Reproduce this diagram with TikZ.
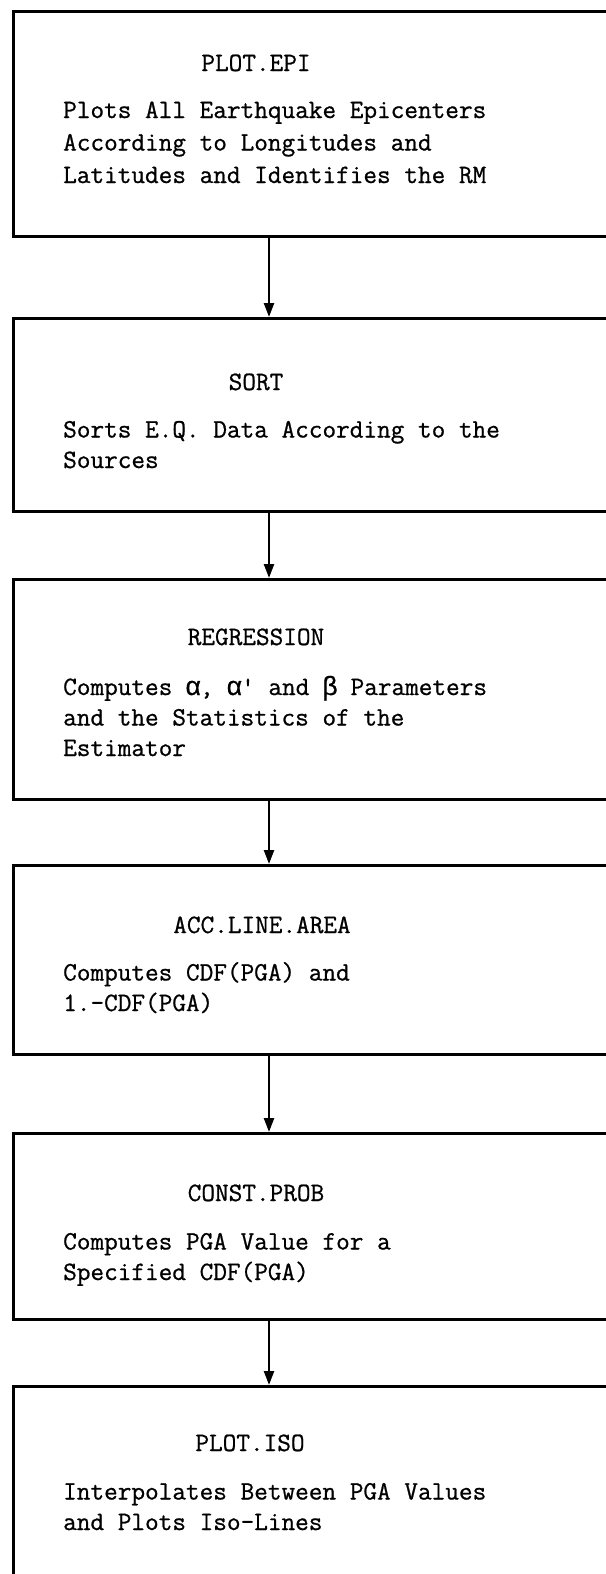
\documentclass[tikz,border=0pt]{standalone}
\usepackage{fontspec}
\setmonofont{Latin Modern Mono}[FakeBold=0.8]
\newfontfamily\greekmono{Liberation Mono}[FakeBold=0.5]
% a Greek letter set in one typewriter cell
\newcommand\gk[1]{\makebox[0.525em]{\greekmono #1}}
\usetikzlibrary{arrows.meta}
\begin{document}
\begin{tikzpicture}[x=1pt,y=-1pt,
  stage/.style={draw, line width=2.8pt, rectangle, inner sep=0pt, anchor=north west, minimum width=660pt},
  title/.style={font=\ttfamily\fontsize{26.5}{30}\selectfont, anchor=base, inner sep=0pt},
  body/.style={font=\ttfamily\fontsize{26.5}{30.5}\selectfont, anchor=base west, align=left, inner sep=0pt},
  flow/.style={line width=2.4pt, -{Triangle[length=14pt,width=10pt]}}]
\useasboundingbox (0,0) rectangle (605,1574);

% program boxes (open on the right, last one runs off the page)
\node[stage, minimum height=225pt] (b1) at (12,10) {};
\node[stage, minimum height=193pt] (b2) at (12,317) {};
\node[stage, minimum height=220pt] (b3) at (12,578) {};
\node[stage, minimum height=189pt] (b4) at (12,864) {};
\node[stage, minimum height=186pt] (b5) at (12,1132) {};
\node[stage, minimum height=260pt] (b6) at (12,1385) {};

% titles and descriptions (a description is placed by the baseline of its last line)
\node[title] (t1) at (256,71) {PLOT.EPI};
\node[body, font=\ttfamily\fontsize{26.5}{32.5}\selectfont] (d1) at (63,183)
  {Plots All Earthquake Epicenters\\According to Longitudes and\\Latitudes and Identifies the RM};

\node[title] (t2) at (256,390) {SORT};
\node[body] (d2) at (63,468) {Sorts E.Q. Data According to the\\Sources};

\node[title] (t3) at (256,645) {REGRESSION};
\node[body] (d3) at (63,756)
  {Computes \gk{α}, \gk{α}' and \gk{β} Parameters\\and the Statistics of the\\Estimator};

\node[title] (t4) at (262,933) {ACC.LINE.AREA};
\node[body] (d4) at (63,1011) {Computes CDF(PGA) and\\1.-CDF(PGA)};

\node[title] (t5) at (256,1201) {CONST.PROB};
\node[body] (d5) at (63,1280) {Computes PGA Value for a\\Specified CDF(PGA)};

\node[title] (t6) at (250,1451) {PLOT.ISO};
\node[body] (d6) at (63,1530) {Interpolates Between PGA Values\\and Plots Iso-Lines};

% flow between the programs
\coordinate (ax) at (269,0);
\draw[flow] (b1.south -| ax) -- (b2.north -| ax);
\draw[flow] (b2.south -| ax) -- (b3.north -| ax);
\draw[flow] (b3.south -| ax) -- (b4.north -| ax);
\draw[flow] (b4.south -| ax) -- (b5.north -| ax);
\draw[flow] (b5.south -| ax) -- (b6.north -| ax);
\end{tikzpicture}
\end{document}
